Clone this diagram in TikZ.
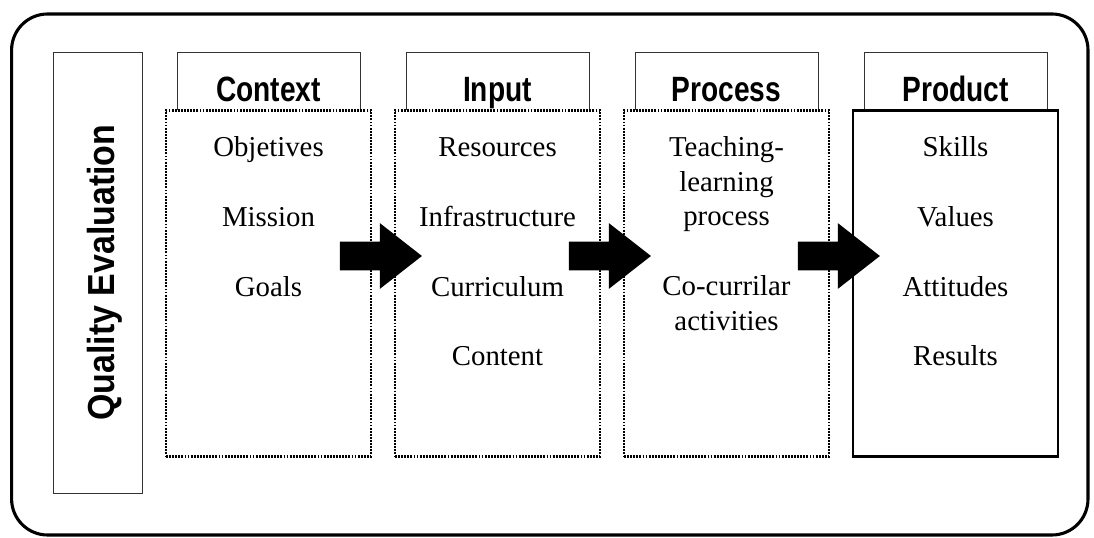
\documentclass[tikz,border=0pt]{standalone}
\usepackage{fontspec}
\setmainfont{Liberation Serif}
\newfontfamily\headfont{Liberation Sans}[FakeStretch=0.8]
\newfontfamily\sidefont{Liberation Sans}[FakeStretch=0.9]
\usetikzlibrary{positioning, shapes.arrows, calc}
\tikzset{
frame/.style={line width=2.2pt, rounded corners=0.9cm}, % the big rounded frame round everything
side/.style={draw=black!80, line width=0.7pt, rotate=90, minimum width=11.025cm, minimum height=2.225cm, text height=0.825cm, text depth=0pt, font=\sidefont\bfseries\fontsize{26.8}{32}\selectfont}, % the upright title box
head/.style={draw=black!80, line width=0.7pt, minimum width=4.575cm, minimum height=1.475cm, inner sep=0pt, text height=1.25cm, text depth=0.225cm, font=\headfont\bfseries\fontsize{25}{30}\selectfont}, % the tab on top of each stage
stage/.style={draw, fill=white, line width=1.5pt, dash pattern=on 1.3pt off 0.9pt, minimum width=5.125cm, minimum height=8.65cm}, % dotted stage boxes
result/.style={stage, solid, line width=1.6pt}, % the last stage has a solid border
item/.style={font=\fontsize{20.5}{25}\selectfont, inner sep=0pt, text height=14pt, text depth=4pt}, % one line of text in a stage
bigarrow/.style={single arrow, fill=black, inner sep=0pt, text height=0.7cm, text depth=0pt, minimum height=2.05cm, minimum width=1.625cm, single arrow head extend=0.4625cm, single arrow tip angle=76}, % block arrows between stages
}

\begin{document}
\begin{tikzpicture}[node distance=1.74cm, on grid]
    \useasboundingbox (0,0) rectangle (27.35,13.45);
    \draw[frame] (0.29,0.075) rectangle (27.2,13.1);

    \node[side] (quality) at (2.4375,6.6375) {Quality Evaluation};

    \node[head] (context) at (6.7125,11.4125) {Context};
    \node[head, right=5.725cm of context] (input) {Input};
    \node[head, right=5.725cm of input] (process) {Process};
    \node[head, right=5.725cm of process] (product) {Product};

    \node[stage, below=5.05cm of context] (contextbox) {};
    \node[stage, below=5.05cm of input] (inputbox) {};
    \node[stage, below=5.05cm of process] (processbox) {};
    \node[result, below=5.05cm of product] (productbox) {};

    \node[item, below=1.71cm of context] (objetives) {Objetives};
    \node[item, below=of objetives] (mission) {Mission};
    \node[item, below=of mission] (goals) {Goals};

    \node[item, below=1.71cm of input] (resources) {Resources};
    \node[item, below=of resources] (infrastructure) {Infrastructure};
    \node[item, below=of infrastructure] (curriculum) {Curriculum};
    \node[item, below=of curriculum] (content) {Content};

    \node[item, below=1.71cm of process] (teaching) {Teaching-};
    \node[item, below=0.8625cm of teaching] (learning) {learning};
    \node[item, below=0.8625cm of learning] (tlprocess) {process};
    \node[item, below=of tlprocess] (cocurrilar) {Co-currilar};
    \node[item, below=0.8625cm of cocurrilar] (activities) {activities};

    \node[item, below=1.71cm of product] (skills) {Skills};
    \node[item, below=of skills] (values) {Values};
    \node[item, below=of values] (attitudes) {Attitudes};
    \node[item, below=of attitudes] (results) {Results};

    \node[bigarrow] (arrow1) at ($(contextbox.east)!0.5!(inputbox.west)+(-0.28,0.6875)$) {};
    \node[bigarrow] (arrow2) at ($(inputbox.east)!0.5!(processbox.west)+(-0.28,0.6875)$) {};
    \node[bigarrow] (arrow3) at ($(processbox.east)!0.5!(productbox.west)+(-0.28,0.6875)$) {};
\end{tikzpicture}
\end{document}
